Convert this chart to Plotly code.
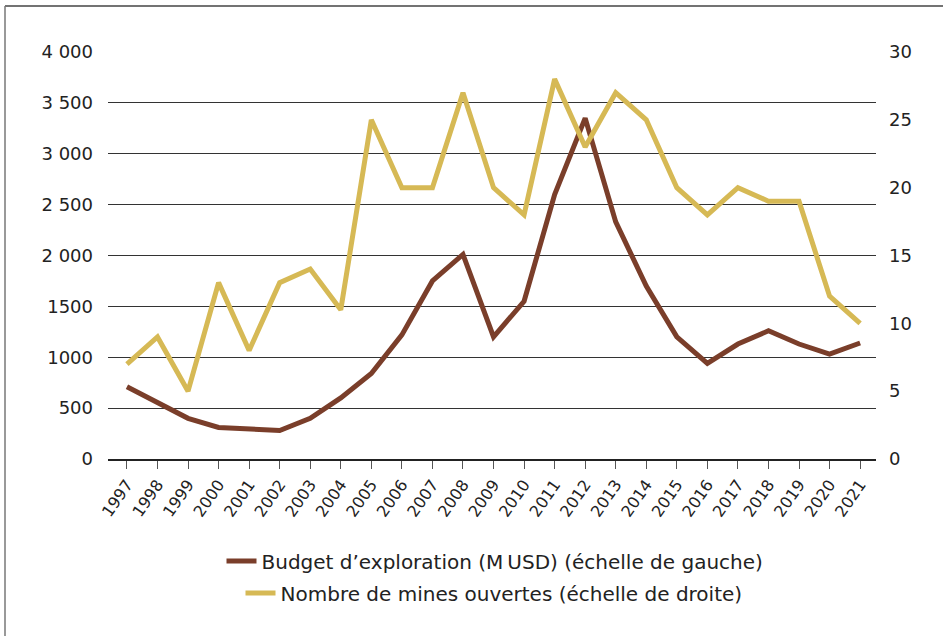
import plotly.graph_objects as go

years = [str(y) for y in range(1997, 2022)]
budget = [710, 560, 400, 310, 290, 280, 400, 600, 840, 1220, 1750, 2010, 1200,
          1550, 2600, 3350, 2330, 1700, 1200, 940, 1130, 1260, 1130, 1030, 1140]
mines = [7, 9, 5, 13, 8, 13, 14, 11, 25, 20, 20, 27, 20,
         18, 28, 23, 27, 25, 20, 18, 20, 19, 19, 12, 10]

left_vals = [0, 500, 1000, 1500, 2000, 2500, 3000, 3500, 4000]
left_text = ["0", "500", "1000", "1500", "2 000", "2 500", "3 000", "3 500", "4 000"]
right_vals = [0, 5, 10, 15, 20, 25, 30]

name_budget = "Budget d\u2019exploration (M\u202fUSD) (échelle de gauche)"
name_mines = "Nombre de mines ouvertes (échelle de droite)"

BROWN = "#7A3E2A"
GOLD = "#D6B955"
FONT = "DejaVu Sans, sans-serif"

fig = go.Figure()
fig.add_trace(go.Scatter(x=years, y=budget, mode="lines", name=name_budget,
                         line=dict(color=BROWN, width=5), legend="legend",
                         showlegend=True))
fig.add_trace(go.Scatter(x=years, y=mines, mode="lines", name=name_mines, yaxis="y2",
                         line=dict(color=GOLD, width=5), legend="legend2",
                         showlegend=True))

W, H = 943, 636
L, R, T, B = 108, 876, 52, 459

def px_x(p):
    return (p - L) / (R - L)

def px_y(p):
    return (B - p) / (B - T)

fig.update_layout(
    width=W, height=H,
    showlegend=True,
    margin=dict(l=L, r=W - R, t=T, b=H - B, pad=0),
    paper_bgcolor="white", plot_bgcolor="white",
    font=dict(family=FONT, color="#222222"),
    xaxis=dict(type="category", range=[-0.62, 24.52], showgrid=False,
               showline=True, linecolor="#222222", linewidth=2,
               ticks="outside", ticklen=8, tickcolor="#555555", tickwidth=1,
               tickangle=-55, tickfont=dict(size=16, family=FONT, color="#222222")),
    yaxis=dict(range=[0, 4000], tickvals=left_vals, ticktext=left_text,
               showgrid=True, gridcolor="#333333", gridwidth=1, zeroline=False,
               showline=False, ticks="", ticklabelstandoff=14,
               tickfont=dict(size=18, family=FONT, color="#222222")),
    yaxis2=dict(range=[0, 30], tickvals=right_vals, overlaying="y", side="right",
                showgrid=False, zeroline=False, showline=False, ticks="",
                ticklabelstandoff=12,
                tickfont=dict(size=18, family=FONT, color="#222222")),
    legend=dict(x=px_x(495), y=px_y(561), xanchor="center", yanchor="middle",
                font=dict(size=20, family=FONT, color="#222222"),
                bgcolor="rgba(0,0,0,0)", itemwidth=30),
    legend2=dict(x=px_x(494), y=px_y(593), xanchor="center", yanchor="middle",
                 font=dict(size=20, family=FONT, color="#222222"),
                 bgcolor="rgba(0,0,0,0)", itemwidth=30),
    shapes=[
        dict(type="line", xref="paper", yref="paper",
             x0=px_x(5), x1=px_x(W + 5), y0=px_y(6), y1=px_y(6),
             line=dict(color="#444444", width=1.5)),
        dict(type="line", xref="paper", yref="paper",
             x0=px_x(5), x1=px_x(5), y0=px_y(6), y1=px_y(H + 5),
             line=dict(color="#777777", width=1.5)),
    ],
)

fig.write_html("out.html", config={"displayModeBar": False},
               post_script="document.body.style.margin='0';document.body.style.padding='0';")
